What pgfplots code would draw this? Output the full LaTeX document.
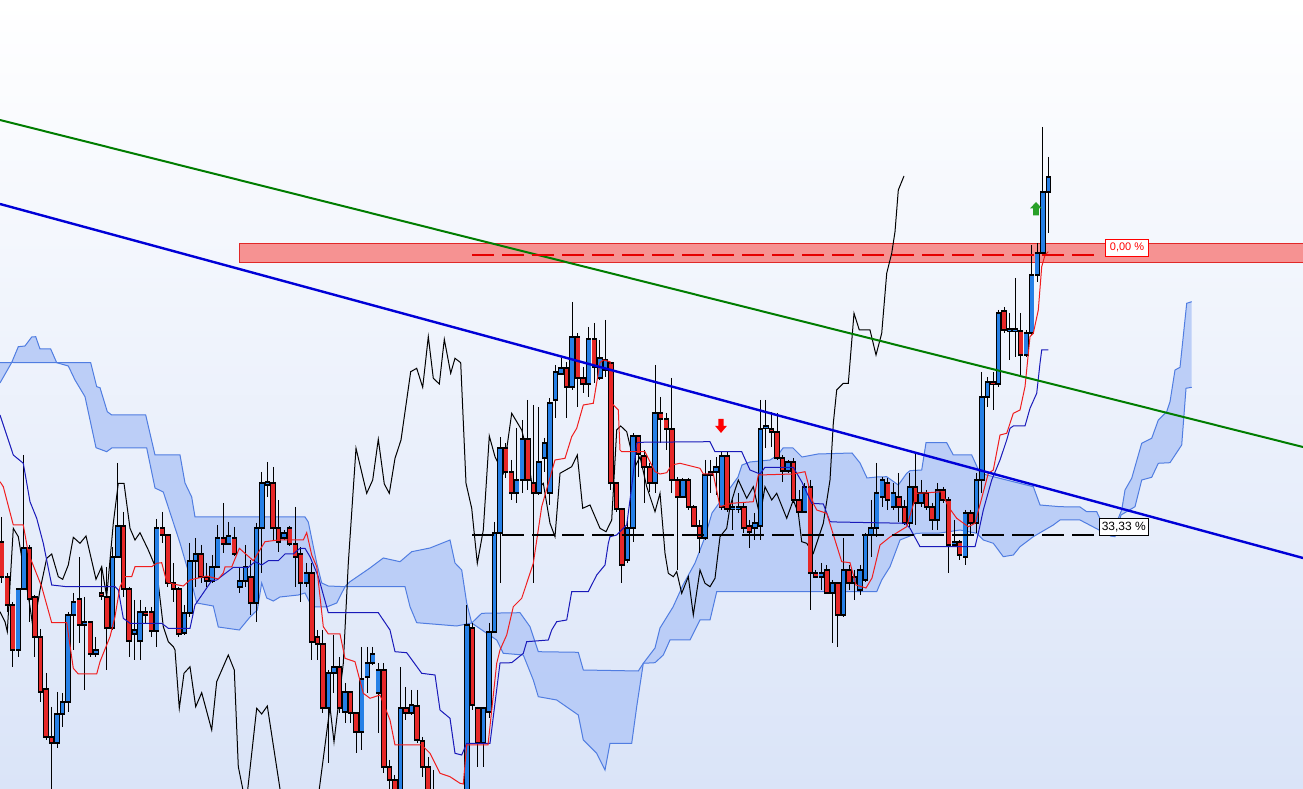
\documentclass[border=0pt]{standalone}
\usepackage{fontspec}
\setmainfont{Liberation Sans}
\usepackage{pgfplots}
\pgfplotsset{compat=1.18}
\usepackage{pgfplotstable}
\usepgfplotslibrary{fillbetween}

\definecolor{bgtop}{RGB}{255,255,255}
\definecolor{bgbot}{RGB}{218,228,248}
\definecolor{cloudfill}{RGB}{183,203,247}
\definecolor{cloudline}{RGB}{80,125,225}
\definecolor{upc}{RGB}{38,128,230}
\definecolor{dnc}{RGB}{230,40,40}
\definecolor{tenkan}{RGB}{240,30,30}
\definecolor{kijun}{RGB}{25,25,185}
\definecolor{tlblue}{RGB}{0,0,215}
\definecolor{tlgreen}{RGB}{0,125,0}
\definecolor{bandfill}{RGB}{246,146,146}
\definecolor{bandline}{RGB}{225,40,40}
\definecolor{arrgreen}{RGB}{40,160,40}

% block arrows
\pgfdeclareplotmark{dnarrow}{%
  \pgfpathmoveto{\pgfpoint{-2.7pt}{7pt}}\pgfpathlineto{\pgfpoint{2.7pt}{7pt}}
  \pgfpathlineto{\pgfpoint{2.7pt}{0pt}}\pgfpathlineto{\pgfpoint{5.8pt}{0pt}}
  \pgfpathlineto{\pgfpoint{0pt}{-7pt}}\pgfpathlineto{\pgfpoint{-5.8pt}{0pt}}
  \pgfpathlineto{\pgfpoint{-2.7pt}{0pt}}\pgfpathclose\pgfusepathqfill}
\pgfdeclareplotmark{uparrow}{%
  \pgfpathmoveto{\pgfpoint{-2.9pt}{-7pt}}\pgfpathlineto{\pgfpoint{2.9pt}{-7pt}}
  \pgfpathlineto{\pgfpoint{2.9pt}{0pt}}\pgfpathlineto{\pgfpoint{6pt}{0pt}}
  \pgfpathlineto{\pgfpoint{0pt}{6.5pt}}\pgfpathlineto{\pgfpoint{-6pt}{0pt}}
  \pgfpathlineto{\pgfpoint{-2.9pt}{0pt}}\pgfpathclose\pgfusepathqfill}

% candles in screen units: i = bar index, o c h l = open close high low
\pgfplotstableread{
i o c h l
3 650 589 589 657
4 589 548 455 590
10 743 714 692 748
11 714 702 693 727
12 702 615 612 712
13 615 602 593 650
15 625 622 597 690
17 654 650 637 657
20 628 557 547 630
21 557 526 463 558
24 634 630 600 660
25 641 612 600 660
28 631 528 519 647
33 633 613 605 635
34 613 561 543 617
35 561 554 538 587
38 581 567 555 583
39 567 538 525 568
41 544 536 522 545
43 587 581 567 593
44 581 567 545 587
46 603 528 523 622
47 528 483 472 573
48 485 482 462 497
51 538 533 530 540
55 583 573 563 587
59 708 673 670 763
60 673 667 635 693
62 712 692 683 723
65 732 679 647 750
66 677 663 647 693
67 663 654 647 665
68 693 670 663 733
72 800 708 667 810
74 713 705 690 715
80 820 805 795 825
82 830 800 795 835
84 800 625 605 805
87 743 708 707 767
88 712 632 623 718
89 632 533 522 633
90 533 448 437 583
93 493 480 428 503
94 480 439 420 493
97 493 462 407 495
98 458 443 438 472
99 493 403 398 505
100 400 372 365 418
101 374 368 358 375
103 387 337 302 390
106 384 339 327 397
108 378 358 340 380
109 370 360 320 377
113 560 528 520 563
114 528 436 433 542
118 483 413 365 493
123 497 480 478 498
127 538 475 460 540
128 475 472 460 493
129 472 467 457 495
130 507 456 452 510
132 509 507 500 530
133 509 507 493 513
136 528 523 513 540
137 526 429 400 540
138 428 426 400 448
142 471 462 460 473
145 512 487 483 513
148 577 573 563 590
150 593 583 580 643
152 615 570 538 617
154 583 577 570 600
155 590 570 565 595
156 580 535 533 582
157 535 528 500 557
158 528 493 463 537
159 497 480 477 507
161 507 493 483 510
164 523 487 473 527
166 503 493 480 507
169 520 490 483 530
172 545 542 520 547
174 557 513 510 565
176 523 480 473 533
177 480 397 372 493
178 397 382 377 407
180 384 313 310 387
182 331 329 313 360
183 331 329 278 357
185 355 333 330 357
186 333 275 245 335
187 275 253 243 282
188 253 192 127 255
189 192 177 157 233
}\upbars

\pgfplotstableread{
i o c h l
0 542 577 517 583
1 577 605 573 612
2 605 650 602 667
5 548 599 545 622
6 597 637 595 657
7 637 692 629 702
8 689 737 673 740
9 737 743 707 800
14 599 625 557 643
16 622 654 622 657
18 593 596 567 600
19 597 628 567 670
22 526 589 512 597
23 589 641 587 657
26 612 615 607 623
27 612 631 607 637
29 528 535 512 543
30 535 583 535 587
31 583 589 563 602
32 589 634 587 637
36 554 577 545 583
37 577 581 563 587
40 538 544 503 553
42 538 554 527 556
45 577 603 560 615
49 483 528 467 540
50 528 542 500 552
52 528 544 526 546
53 544 557 507 587
54 554 583 547 602
56 573 642 563 660
57 637 644 630 660
58 644 708 630 713
61 667 708 657 713
63 692 713 691 723
64 713 732 713 753
69 670 767 663 773
70 767 780 760 795
71 780 800 775 810
73 708 713 687 720
75 706 740 690 743
76 741 767 737 777
77 767 795 757 800
78 790 805 770 815
79 800 820 795 830
81 805 830 800 840
83 800 820 795 830
85 628 705 623 710
86 708 743 707 767
91 448 472 443 478
92 472 493 460 500
95 439 480 400 490
96 483 493 405 583
102 368 387 362 418
104 337 378 333 407
105 378 384 367 393
107 339 367 323 383
110 363 483 362 490
111 483 509 482 512
112 509 565 508 583
115 436 454 435 477
116 456 467 450 503
117 467 483 463 492
119 413 419 397 443
120 419 429 413 450
121 429 480 378 493
122 480 497 477 570
124 480 507 478 510
125 507 526 505 527
126 526 538 520 553
131 456 509 452 512
134 507 528 503 533
135 526 532 520 548
139 429 432 412 447
140 432 458 413 460
141 458 471 455 482
143 462 500 458 503
144 500 512 490 513
146 487 573 480 610
147 573 577 570 578
149 570 593 565 593
151 583 615 582 647
153 570 583 565 590
160 483 500 478 510
162 497 507 473 522
163 507 523 500 525
165 487 503 453 525
167 493 507 490 510
168 507 520 503 530
170 490 500 487 503
171 500 545 497 573
173 542 555 540 560
175 513 523 510 535
179 382 384 372 410
181 311 330 307 333
184 331 355 313 377
}\dnbars

\pgfplotsset{
  bar/.style 2 args={mark=none, draw=none, forget plot,
    error bars/.cd, y dir=plus, y explicit, error mark=none,
    error bar style={draw=#2, line width=#1}},
}

\begin{document}
\begin{tikzpicture}
\begin{axis}[
    name=ax,
    width=1303pt, height=789pt, scale only axis,
    xmin=0, xmax=1303, ymin=0, ymax=789,
    y dir=reverse,
    axis lines=none, xtick=\empty, ytick=\empty,
    axis background/.style={top color=bgtop, bottom color=bgbot},
  ]

% resistance band
\addplot[fill=bandfill, draw=bandline, line width=0.8pt] coordinates {
  (239,243.3) (1310,243.3) (1310,262.3) (239,262.3)} -- cycle;

% ichimoku cloud
\addplot[name path=ctop, cloudline, line width=1pt] coordinates {
(0,362.7) (11.7,362.5) (18.3,346.7) (25,346) (31.7,337) (35.7,336.7) (40,349) (50.7,349)
(56.7,362.7) (90.7,362.7) (96.7,386.7) (100,387.7) (107.3,411.7) (111.7,415) (145.7,415)
(155,455) (180,455) (185,483) (191.7,497) (195,517) (305,517) (308.3,522) (316.7,563)
(321.7,583) (328.3,586) (345,586.7) (350,581.7) (370,568) (383.3,558) (400,561.7)
(411.7,551.7) (430,548) (450,540) (455,563) (461.7,570) (466.7,603) (471.7,623)
(481.7,613.3) (520,612.7) (530,626.7) (538.3,651.7) (578.3,652.3) (583.3,670) (638.3,671)
(643.3,663.3) (655,648) (660,628) (673,607) (683,585) (695,563) (705,537) (712,513)
(725,495) (738,477) (742,465) (750,462) (770,460) (778,455) (783,448) (793,448) (802,457)
(818,454) (852,453) (860,463) (867,478) (877,477) (886.7,476.7) (898.3,485) (906.7,473.3)
(910,470.7) (921.7,470) (926,442.7) (946.7,442.7) (953.3,455) (971.7,455) (980,473.3)
(993.3,476.7) (1013.3,481.7) (1033.3,486.7) (1040,505) (1060,506.7) (1080,507)
(1086.7,511.7) (1096.7,511.7) (1106.7,533) (1111,536) (1121.7,510) (1125,490)
(1131.7,478.3) (1141.7,443.3) (1151.7,438.3) (1158.3,420) (1166.7,411.7) (1170,401.7)
(1175,370) (1180,367.3) (1186.7,303.3) (1191.7,301.7)};
\addplot[name path=cbot, cloudline, line width=1pt] coordinates {
(0,383) (11.7,362.5) (56.7,362.7) (68.3,366) (75,380) (85,396.7) (96,447.7) (106.7,451.7)
(111.7,448) (146.7,448) (155,488) (163.3,492) (180,543) (191.7,583) (196.7,603)
(213.3,606) (218.3,627) (239.3,630) (250,617) (257.3,610) (261.7,583) (266.7,598)
(273.3,601) (280,597) (298.3,595) (305,593) (310,603) (311.7,607) (326.7,607)
(336.7,603) (345,586.7) (405,586.7) (410,606.7) (416.7,622.7) (456.7,626) (471.7,623)
(486.7,633.3) (496.7,640) (503.3,653.3) (523.3,655) (533.3,680) (538.3,696.7)
(556.7,700) (578.3,715) (583.3,740) (596.7,753.3) (605,770) (610,743.3) (631.7,743.3)
(636.7,706.7) (643.3,663.3) (655,662.7) (663.3,655) (670,640) (690,640) (700,620)
(710,620) (716.7,591.7) (876.7,591.7) (881.7,580) (890,566.7) (900,540) (916.7,533.3)
(940,533) (960,530) (976.7,533.3) (983.3,540) (993.3,543.3) (1003.3,556.7) (1013.3,555)
(1020,546.7) (1033.3,536.7) (1053.3,525) (1060,520) (1080,520) (1106.7,534) (1111,536)
(1115,536.7) (1121,515) (1135,506.7) (1141.7,480) (1151.7,477.3) (1158.3,463.3)
(1170,462.7) (1181.7,445) (1186,388.3) (1191.7,387.3)};
\addplot[cloudfill, fill opacity=0.9] fill between[of=ctop and cbot];

% lagging span
\addplot[black, line width=1pt] coordinates {
(0,611.7) (5,621.7) (7.3,631.7) (13.3,528.3) (18.3,536.7) (25,576.7) (30,606.7)
(33.3,630) (40,590) (46.7,558.3) (51.7,554) (58.3,576.7) (62.7,579.3) (68.3,565)
(73.3,537.3) (80,543.3) (86,536) (96,579.3) (101.7,566.7) (106.7,596.7) (113.3,523.3)
(118.3,483.3) (124,483.3) (130,528.3) (135,540) (140,532.7) (148.3,550) (156.7,570)
(163.3,626.7) (168.3,641.7) (173.3,646.7) (175,650) (179.3,708.3) (184,673.3)
(190,666.7) (195.7,706.7) (201.7,692.7) (211.7,730) (216.7,681.7) (228.3,655)
(234.3,670) (238.3,766.7) (246,805) (256.7,708.3) (261.7,714) (267.3,706) (280,789)
(290,830) (310,830) (319.3,789) (330,707) (334,742) (343.3,663.3) (348.3,563.3)
(356,448.3) (366.7,493.3) (372.7,480) (378.3,439.3) (384.3,484) (389.3,493.3)
(395,458.3) (401,440) (410.7,371.7) (416.7,368.3) (422.7,387.3) (428.3,336.7)
(433.3,378.3) (439.3,384) (444.3,339.3) (450.7,373.3) (455,358.3) (460.7,362.7)
(466,483.3) (471.7,508.3) (477.3,563.3) (483.3,530) (489.3,436) (495,456.7)
(503.3,473.3) (511.7,413.3) (521.7,430) (526.7,450) (533.3,493.3) (543.3,483.3)
(550,523.3) (555,536.7) (560,473.3) (571.7,466.7) (577.3,455) (582.7,508.3) (590,505)
(600,528.3) (606,531.7) (611.7,520) (616.7,430) (620.7,426) (626.7,431.7) (635,466.7)
(640,456.7) (646.7,486.7) (655,511.7) (660,493.3) (665,553.3) (668.3,573.3)
(673.3,576.7) (676.7,571.7) (681.7,593.3) (688.3,576.7) (693.3,615) (700,570)
(705,583.3) (710,586.7) (715,578.3) (720,536.7) (726.7,528.3) (730,506.7) (735,490)
(738.3,480) (746.7,498.3) (753.3,486.7) (760,516.7) (765,486.7) (771.7,500)
(776.7,493.3) (786.7,518.3) (793.3,500) (798.3,513.3) (801.7,541.7) (806.7,543.3)
(813.3,553.3) (823.3,523.3) (830,480) (833.3,423.3) (836.7,390) (843.3,383.3)
(848.3,383.3) (854,313.3) (859.3,330) (870,330) (876,355) (881.7,333.3) (886.7,273.3)
(891.7,253.3) (895,231.7) (898.3,190) (904,176)};

% candles: wick, black body edge, coloured body
\addplot[bar={1pt}{black}] table[x expr=1.7+5.538*\thisrow{i}, y=h,
  y error expr=\thisrow{l}-\thisrow{h}] {\upbars};
\addplot[bar={1pt}{black}] table[x expr=1.7+5.538*\thisrow{i}, y=h,
  y error expr=\thisrow{l}-\thisrow{h}] {\dnbars};
\addplot[bar={5.4pt}{black}] table[x expr=1.7+5.538*\thisrow{i}, y expr=\thisrow{c}-0.8,
  y error expr=\thisrow{o}-\thisrow{c}+1.6] {\upbars};
\addplot[bar={5.4pt}{black}] table[x expr=1.7+5.538*\thisrow{i}, y expr=\thisrow{o}-0.8,
  y error expr=\thisrow{c}-\thisrow{o}+1.6] {\dnbars};
\addplot[bar={3.7pt}{upc}] table[x expr=1.7+5.538*\thisrow{i}, y expr=\thisrow{c}+0.8,
  y error expr={max(\thisrow{o}-\thisrow{c}-1.6,0.5)}] {\upbars};
\addplot[bar={3.7pt}{dnc}] table[x expr=1.7+5.538*\thisrow{i}, y expr=\thisrow{o}+0.8,
  y error expr={max(\thisrow{c}-\thisrow{o}-1.6,0.5)}] {\dnbars};

% base line
\addplot[kijun, line width=1pt] coordinates {
(0,415) (5,430) (13.3,455) (23.3,463.3) (30,501.7) (36.7,518.3) (43.3,543.3) (51.7,585)
(66.7,586.7) (115,586.7) (118.3,590) (123.3,618.3) (130,623.3) (161.7,623.3)
(168.3,628.3) (190,628.3) (195,605) (211.7,580.7) (216.7,580) (233.3,567.3)
(248.3,567.3) (255,561.7) (261.7,565) (268.3,560.7) (278.3,560.7) (285,554) (293.3,554)
(300,548.3) (305,548.3) (310,556.7) (318.3,576.7) (328.3,612.7) (378.3,612.7) (390,630)
(395,651.7) (406.7,652.7) (421.7,673.3) (435,675) (440,710) (450,718.3) (455,753.3)
(461.7,755) (466.7,743.3) (490,743.3) (500,663) (511.7,662.7) (523.3,653.3)
(526.7,641.7) (548.3,640) (551.7,630) (556.7,621.7) (566.7,620) (571.7,591.7)
(588.3,591.7) (596.7,575) (605,565) (608.3,543.3) (610,536.7) (616.7,535) (626.7,525)
(631.7,486.7) (636.7,443.3) (638.3,442.3) (710,441.7) (715,451.7) (741.7,451.7)
(750,470) (760,474) (765,467.3) (793.3,467.3) (801.7,481.7) (811.7,503.3) (823.3,504)
(830,521.7) (836.7,522) (905,523.3) (910,528.3) (920,546.7) (975,546.7) (978.3,533.3)
(983.3,510) (991.7,480) (1000,460) (1006.7,440) (1010,428.3) (1013.3,426) (1025,426)
(1030,408.3) (1036.7,393.3) (1040,363.3) (1041.7,350) (1048.3,350)};

% conversion line
\addplot[tenkan, line width=1pt] coordinates {
(0,481.7) (3.3,486.7) (13.3,525) (23.3,525) (28.3,553) (41.7,586.7) (51.7,622.7)
(66.7,622.7) (73.3,668.3) (78.3,674) (96.7,674) (100,661.7) (110,636.7) (115,616.7)
(120,586.7) (125,576.7) (131.7,576.7) (135,566.7) (151.7,566.7) (156.7,563.3)
(161.7,562.7) (166.7,581.7) (173.3,584) (183.3,586) (190,580) (206.7,576) (218.3,579)
(223.3,573) (225,567) (231.7,567) (239.3,548.3) (253.3,560.7) (265,541.7) (278.3,540)
(303.3,540) (306.7,532.7) (311.7,555) (316.7,566.7) (323.3,626.7) (328.3,634) (340,634)
(345,658.3) (355,661.7) (363.3,693.3) (370,698.3) (380,695) (390,720) (395,745)
(421.7,745) (430,753.3) (440,773.3) (450,776.7) (460,783.3) (463.3,784) (466.7,745)
(488,745) (496.7,663.3) (500,650) (506.7,635) (513.3,606.7) (521.7,598.3) (533.3,563.3)
(541.7,506.7) (555,460) (565,458.3) (571.7,436.7) (576.7,428.3) (583.3,405)
(593.3,403.3) (600,362.7) (603.3,360) (610,361.7) (611.7,403.3) (618.3,410) (620,450)
(621.7,451.7) (645,451.7) (655,471.7) (660,474) (666.7,472.7) (671.7,465) (680,463.3)
(700,468.3) (703.3,474) (713.3,474) (720,506.7) (731.7,503.3) (753.3,501.7) (758.3,475)
(793.3,474) (805,471.7) (813.3,503.3) (816.7,510) (826.7,513.3) (841.7,561.7)
(850,562.7) (856,585) (866,588) (872,578) (880,545) (890,537) (906.7,526.7)
(916.7,493.3) (928.3,492.7) (941.7,491.7) (948.3,506.7) (956.7,518.3) (968.3,526.7)
(975,523.3) (988.3,473.3) (993.3,470) (1000,435) (1006.7,433.3) (1013.3,413.3)
(1020,410) (1025,386.7) (1030,336.7) (1033.3,333.3) (1038.3,310) (1041.7,266.7)
(1045,255) (1048.3,251.7)};

% trend lines
\addplot[tlgreen, line width=2pt] coordinates {(0,120) (1303,447)};
\addplot[tlblue, line width=2.4pt] coordinates {(0,204) (1303,558)};

% retracement levels
\addplot[red!90!black, line width=2pt, dash pattern=on 21.7pt off 8.3pt]
  coordinates {(472,255) (1100,255)};
\addplot[black, line width=2pt, dash pattern=on 21.7pt off 8.3pt]
  coordinates {(472,535) (1095,535)};

% signal arrows
\addplot[only marks, mark=dnarrow, color=red] coordinates {(721,426)};
\addplot[only marks, mark=uparrow, color=arrgreen] coordinates {(1036,208.5)};

\node[draw=red, fill=white, text=red, inner sep=0pt, line width=0.8pt,
  minimum width=42.6pt, minimum height=16.7pt, font=\fontsize{11}{12}\selectfont]
  at (axis cs:1127,247.7) {0,00 \%};
\node[draw=black, fill=white, text=black, inner sep=0pt, line width=0.8pt,
  minimum width=49pt, minimum height=16.7pt, font=\fontsize{12}{13}\selectfont]
  at (axis cs:1123.8,526.7) {33,33 \%};
\end{axis}
\pgfresetboundingbox
\path[use as bounding box] (ax.south west) rectangle (ax.north east);
\end{tikzpicture}
\end{document}
